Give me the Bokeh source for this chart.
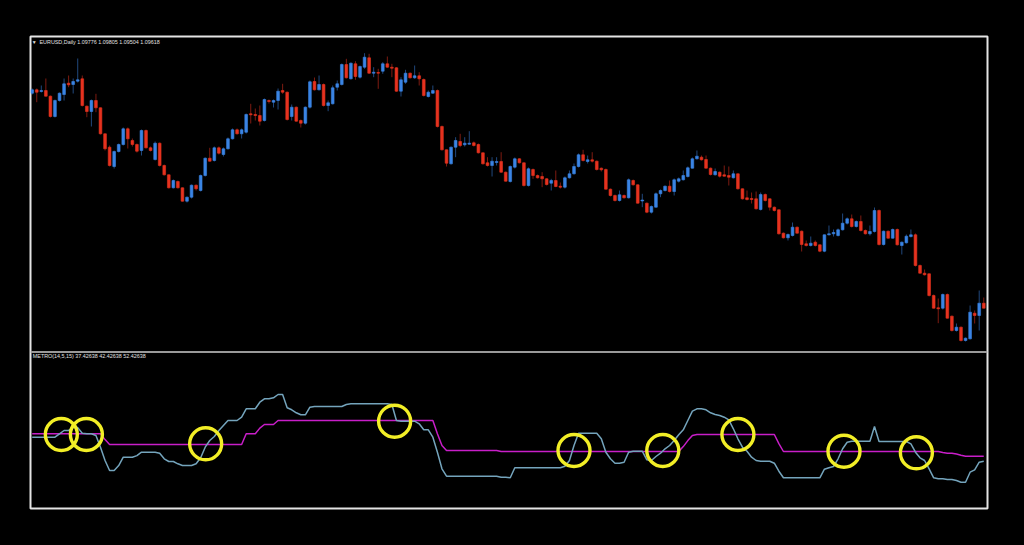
from bokeh.plotting import figure
from bokeh.models import ColumnDataSource, Range1d, Span, Label
from bokeh.embed import file_html
from bokeh.resources import INLINE

# ---------------- data ----------------
symbol = "EURUSD,Daily"
last_bar = ["1.09776", "1.09805", "1.09504", "1.09618"]
indicator_name = "METRO(14,5,15)"
indicator_last = ["37.42638", "42.42638", "52.42638"]

opens = [
    1.11743, 1.11777, 1.11760, 1.11770, 1.11713, 1.11510, 1.11670, 1.11730, 1.11843, 1.11830,
    1.11863, 1.11887, 1.11613, 1.11560, 1.11670, 1.11597, 1.11337, 1.11203, 1.11010, 1.11160,
    1.11230, 1.11387, 1.11270, 1.11230, 1.11170, 1.11370, 1.11197, 1.11080, 1.11243, 1.11020,
    1.10927, 1.10797, 1.10860, 1.10797, 1.10663, 1.10703, 1.10823, 1.10770, 1.10920, 1.11093,
    1.11070, 1.11197, 1.11130, 1.11187, 1.11287, 1.11377, 1.11337, 1.11353, 1.11537, 1.11530,
    1.11520, 1.11470, 1.11670, 1.11653, 1.11670, 1.11770, 1.11753, 1.11510, 1.11603, 1.11470,
    1.11443, 1.11603, 1.11860, 1.11777, 1.11830, 1.11620, 1.11637, 1.11803, 1.11830, 1.12030,
    1.11887, 1.12037, 1.11903, 1.12003, 1.12097, 1.11943, 1.11950, 1.11963, 1.12037, 1.12003,
    1.11997, 1.11763, 1.11853, 1.11943, 1.11897, 1.11917, 1.11880, 1.11710, 1.11743, 1.11770,
    1.11410, 1.11177, 1.11037, 1.11203, 1.11260, 1.11227, 1.11233, 1.11247, 1.11230, 1.11147,
    1.11047, 1.11020, 1.11050, 1.11060, 1.10953, 1.10860, 1.11003, 1.11087, 1.11047, 1.10820,
    1.10980, 1.10920, 1.10910, 1.10887, 1.10843, 1.10870, 1.10813, 1.10803, 1.10897, 1.10937,
    1.11010, 1.11127, 1.11060, 1.11077, 1.11063, 1.10993, 1.10980, 1.10783, 1.10720, 1.10670,
    1.10720, 1.10697, 1.10870, 1.10827, 1.10665, 1.10643, 1.10553, 1.10603, 1.10737, 1.10770,
    1.10813, 1.10760, 1.10863, 1.10877, 1.10910, 1.10993, 1.11087, 1.11103, 1.11080, 1.10993,
    1.10927, 1.10953, 1.10927, 1.10920, 1.10897, 1.10937, 1.10787, 1.10697, 1.10690, 1.10687,
    1.10580, 1.10730, 1.10687, 1.10603, 1.10577, 1.10343, 1.10297, 1.10320, 1.10403, 1.10363,
    1.10237, 1.10220, 1.10253, 1.10227, 1.10163, 1.10327, 1.10337, 1.10320, 1.10377, 1.10443,
    1.10487, 1.10410, 1.10460, 1.10370, 1.10337, 1.10360, 1.10570, 1.10230, 1.10363, 1.10293,
    1.10380, 1.10220, 1.10247, 1.10310, 1.10327, 1.10020, 1.09943, 1.09937, 1.09720, 1.09597,
    1.09593, 1.09730, 1.09513, 1.09370, 1.09403, 1.09270, 1.09287, 1.09543, 1.09520, 1.09643,
]
highs = [
    1.11790, 1.11790, 1.11820, 1.11890, 1.11720, 1.11680, 1.11750, 1.11890, 1.11920, 1.11890,
    1.12090, 1.11920, 1.11620, 1.11680, 1.11737, 1.11600, 1.11340, 1.11220, 1.11170, 1.11240,
    1.11400, 1.11400, 1.11290, 1.11240, 1.11380, 1.11380, 1.11210, 1.11260, 1.11250, 1.11030,
    1.10930, 1.10880, 1.10870, 1.10800, 1.10710, 1.10830, 1.10830, 1.10930, 1.11100, 1.11197,
    1.11210, 1.11210, 1.11200, 1.11300, 1.11390, 1.11390, 1.11390, 1.11540, 1.11637, 1.11590,
    1.11620, 1.11690, 1.11680, 1.11680, 1.11790, 1.11837, 1.11760, 1.11630, 1.11610, 1.11480,
    1.11610, 1.11870, 1.11900, 1.11920, 1.11840, 1.11670, 1.11820, 1.11870, 1.12040, 1.12087,
    1.12050, 1.12063, 1.12020, 1.12143, 1.12137, 1.12003, 1.11987, 1.12053, 1.12110, 1.12037,
    1.12003, 1.11903, 1.11977, 1.11950, 1.12020, 1.11953, 1.11890, 1.11770, 1.11820, 1.11780,
    1.11420, 1.11180, 1.11210, 1.11303, 1.11337, 1.11303, 1.11363, 1.11260, 1.11240, 1.11150,
    1.11103, 1.11103, 1.11103, 1.11153, 1.10960, 1.11020, 1.11100, 1.11093, 1.11050, 1.11000,
    1.10990, 1.10930, 1.10953, 1.10893, 1.10887, 1.10970, 1.10850, 1.10910, 1.10970, 1.11040,
    1.11140, 1.11177, 1.11120, 1.11153, 1.11070, 1.11000, 1.10990, 1.10790, 1.10730, 1.10770,
    1.10730, 1.10890, 1.10880, 1.10830, 1.10737, 1.10650, 1.10620, 1.10750, 1.10780, 1.10820,
    1.10870, 1.10890, 1.10900, 1.10970, 1.11010, 1.11100, 1.11170, 1.11120, 1.11120, 1.11000,
    1.10990, 1.10960, 1.11020, 1.11010, 1.10970, 1.10940, 1.10790, 1.10770, 1.10750, 1.10760,
    1.10750, 1.10740, 1.10690, 1.10610, 1.10580, 1.10350, 1.10340, 1.10450, 1.10410, 1.10370,
    1.10270, 1.10310, 1.10270, 1.10230, 1.10330, 1.10420, 1.10380, 1.10390, 1.10540, 1.10500,
    1.10530, 1.10470, 1.10520, 1.10380, 1.10420, 1.10600, 1.10580, 1.10370, 1.10370, 1.10390,
    1.10390, 1.10260, 1.10330, 1.10380, 1.10340, 1.10030, 1.09980, 1.09940, 1.09730, 1.09690,
    1.09740, 1.09740, 1.09520, 1.09440, 1.09410, 1.09300, 1.09620, 1.09570, 1.09770, 1.09700,
]
lows = [
    1.11730, 1.11653, 1.11750, 1.11710, 1.11500, 1.11500, 1.11660, 1.11670, 1.11803, 1.11740,
    1.11850, 1.11610, 1.11503, 1.11410, 1.11553, 1.11330, 1.11170, 1.11010, 1.10990, 1.11150,
    1.11220, 1.11190, 1.11210, 1.11150, 1.11120, 1.11190, 1.11160, 1.11070, 1.11010, 1.10920,
    1.10790, 1.10790, 1.10790, 1.10660, 1.10650, 1.10690, 1.10770, 1.10760, 1.10910, 1.11060,
    1.11060, 1.11130, 1.11110, 1.11180, 1.11280, 1.11330, 1.11290, 1.11340, 1.11440, 1.11470,
    1.11420, 1.11460, 1.11640, 1.11600, 1.11580, 1.11737, 1.11470, 1.11470, 1.11460, 1.11400,
    1.11430, 1.11590, 1.11770, 1.11770, 1.11610, 1.11563, 1.11630, 1.11770, 1.11820, 1.11890,
    1.11880, 1.11877, 1.11890, 1.11987, 1.11937, 1.11903, 1.11787, 1.11937, 1.11997, 1.11903,
    1.11757, 1.11710, 1.11837, 1.11890, 1.11887, 1.11820, 1.11710, 1.11700, 1.11737, 1.11400,
    1.11170, 1.11010, 1.11030, 1.11103, 1.11203, 1.11210, 1.11230, 1.11210, 1.11140, 1.11030,
    1.11010, 1.10910, 1.11020, 1.10947, 1.10860, 1.10850, 1.10990, 1.11040, 1.10810, 1.10810,
    1.10887, 1.10890, 1.10803, 1.10820, 1.10770, 1.10803, 1.10790, 1.10790, 1.10890, 1.10930,
    1.11000, 1.11060, 1.11040, 1.11050, 1.10970, 1.10960, 1.10780, 1.10710, 1.10660, 1.10660,
    1.10690, 1.10690, 1.10820, 1.10640, 1.10603, 1.10543, 1.10540, 1.10600, 1.10703, 1.10760,
    1.10750, 1.10720, 1.10850, 1.10870, 1.10900, 1.10990, 1.11080, 1.11070, 1.10990, 1.10920,
    1.10920, 1.10900, 1.10910, 1.10820, 1.10890, 1.10780, 1.10680, 1.10670, 1.10640, 1.10580,
    1.10570, 1.10660, 1.10570, 1.10560, 1.10330, 1.10290, 1.10270, 1.10310, 1.10340, 1.10160,
    1.10210, 1.10210, 1.10210, 1.10153, 1.10153, 1.10320, 1.10310, 1.10310, 1.10370, 1.10430,
    1.10400, 1.10400, 1.10360, 1.10330, 1.10320, 1.10350, 1.10220, 1.10220, 1.10290, 1.10290,
    1.10220, 1.10130, 1.10240, 1.10300, 1.10010, 1.09940, 1.09920, 1.09710, 1.09590, 1.09443,
    1.09580, 1.09490, 1.09360, 1.09360, 1.09260, 1.09260, 1.09280, 1.09440, 1.09370, 1.09590,
]
closes = [
    1.11777, 1.11753, 1.11770, 1.11713, 1.11510, 1.11670, 1.11743, 1.11837, 1.11827, 1.11860,
    1.11877, 1.11620, 1.11560, 1.11670, 1.11597, 1.11337, 1.11187, 1.11020, 1.11160, 1.11230,
    1.11387, 1.11287, 1.11230, 1.11163, 1.11370, 1.11197, 1.11170, 1.11243, 1.11020, 1.10927,
    1.10797, 1.10870, 1.10797, 1.10663, 1.10703, 1.10823, 1.10787, 1.10920, 1.11093, 1.11063,
    1.11197, 1.11143, 1.11187, 1.11287, 1.11377, 1.11337, 1.11377, 1.11530, 1.11527, 1.11520,
    1.11463, 1.11680, 1.11660, 1.11670, 1.11763, 1.11753, 1.11480, 1.11603, 1.11463, 1.11443,
    1.11603, 1.11857, 1.11777, 1.11830, 1.11620, 1.11647, 1.11797, 1.11837, 1.12030, 1.11897,
    1.12043, 1.11910, 1.12010, 1.12103, 1.11943, 1.11953, 1.11943, 1.12037, 1.12003, 1.11993,
    1.11763, 1.11877, 1.11943, 1.11897, 1.11917, 1.11887, 1.11720, 1.11753, 1.11770, 1.11410,
    1.11177, 1.11043, 1.11203, 1.11270, 1.11220, 1.11243, 1.11243, 1.11220, 1.11147, 1.11037,
    1.11020, 1.11063, 1.11060, 1.10953, 1.10863, 1.11010, 1.11087, 1.11047, 1.10820, 1.10987,
    1.10920, 1.10897, 1.10887, 1.10830, 1.10870, 1.10810, 1.10803, 1.10897, 1.10937, 1.11010,
    1.11127, 1.11070, 1.11077, 1.11063, 1.10980, 1.10977, 1.10783, 1.10720, 1.10670, 1.10727,
    1.10697, 1.10877, 1.10827, 1.10643, 1.10675, 1.10553, 1.10610, 1.10737, 1.10770, 1.10813,
    1.10760, 1.10877, 1.10887, 1.10920, 1.10997, 1.11087, 1.11113, 1.11077, 1.10993, 1.10930,
    1.10960, 1.10913, 1.10913, 1.10903, 1.10937, 1.10787, 1.10687, 1.10680, 1.10680, 1.10587,
    1.10730, 1.10670, 1.10603, 1.10570, 1.10337, 1.10297, 1.10330, 1.10403, 1.10343, 1.10230,
    1.10220, 1.10243, 1.10220, 1.10163, 1.10327, 1.10337, 1.10350, 1.10377, 1.10443, 1.10487,
    1.10410, 1.10460, 1.10370, 1.10337, 1.10360, 1.10570, 1.10230, 1.10363, 1.10293, 1.10380,
    1.10227, 1.10253, 1.10313, 1.10327, 1.10020, 1.09943, 1.09927, 1.09720, 1.09593, 1.09587,
    1.09730, 1.09493, 1.09370, 1.09403, 1.09270, 1.09293, 1.09553, 1.09520, 1.09643, 1.09593,
]

# METRO step lines (fast = light blue, slow = magenta)
step_fast = [
    61.4, 61.4, 61.4, 61.4, 61.4, 61.4, 64.8, 68.1, 68.1, 71.0,
    71.0, 65.4, 64.8, 64.8, 63.1, 51.4, 38.1, 28.1, 28.1, 33.0,
    41.4, 41.4, 41.4, 43.0, 46.4, 46.4, 46.4, 46.4, 45.4, 39.8,
    37.1, 37.1, 34.8, 33.1, 33.1, 33.1, 34.8, 40.8, 51.4, 58.1,
    62.1, 68.1, 73.1, 78.1, 78.1, 78.1, 81.4, 89.8, 89.8, 89.8,
    96.4, 99.8, 99.8, 100.8, 104.1, 104.1, 90.8, 88.8, 85.8, 83.8,
    83.8, 91.4, 92.1, 92.1, 92.1, 92.1, 92.1, 92.1, 92.1, 94.1,
    94.8, 94.8, 94.8, 94.8, 94.8, 94.8, 94.8, 94.8, 94.8, 94.1,
    78.1, 77.4, 77.4, 77.4, 77.4, 74.8, 68.8, 68.8, 61.4, 46.4,
    29.8, 22.4, 22.4, 22.4, 22.4, 22.4, 22.4, 22.4, 22.4, 22.4,
    22.4, 22.4, 22.4, 21.4, 21.4, 20.8, 30.8, 30.8, 30.8, 30.8,
    30.8, 30.8, 30.8, 30.8, 30.8, 30.8, 30.8, 32.4, 38.1, 53.1,
    65.4, 65.4, 65.4, 65.4, 65.4, 59.8, 46.4, 39.8, 35.4, 35.4,
    36.4, 46.4, 47.4, 47.4, 47.4, 38.8, 38.1, 42.1, 45.4, 49.8,
    53.1, 58.1, 63.8, 68.8, 78.1, 87.4, 89.8, 89.8, 88.8, 85.8,
    84.1, 83.1, 81.4, 78.8, 69.8, 59.8, 51.4, 47.4, 41.4, 38.1,
    37.4, 37.4, 37.4, 35.4, 27.4, 20.8, 20.8, 20.8, 20.8, 20.8,
    20.8, 20.8, 20.8, 20.8, 29.4, 30.8, 32.1, 39.8, 49.8, 56.4,
    57.4, 57.4, 57.4, 57.4, 57.4, 72.1, 57.1, 57.1, 57.1, 57.1,
    57.1, 57.1, 57.1, 54.8, 46.4, 40.8, 38.1, 29.8, 20.8, 19.8,
    19.8, 19.1, 19.1, 18.1, 16.4, 16.4, 26.4, 28.8, 36.4, 37.42638,
]
step_slow = [
    64.8, 64.8, 64.8, 64.8, 64.8, 64.8, 64.8, 64.8, 64.8, 64.8,
    64.8, 64.8, 64.8, 64.8, 64.8, 64.8, 59.0, 54.1, 54.1, 54.1,
    54.1, 54.1, 54.1, 54.1, 54.1, 54.1, 54.1, 54.1, 54.1, 54.1,
    54.1, 54.1, 54.1, 54.1, 54.1, 54.1, 54.1, 54.1, 54.1, 54.1,
    54.1, 54.1, 54.1, 54.1, 54.1, 54.1, 54.1, 64.8, 64.8, 64.8,
    70.5, 74.1, 74.1, 74.1, 78.1, 78.1, 78.1, 78.1, 78.1, 78.1,
    78.1, 78.1, 78.1, 78.1, 78.1, 78.1, 78.1, 78.1, 78.1, 78.1,
    78.1, 78.1, 78.1, 78.1, 78.1, 78.1, 78.1, 78.1, 78.1, 78.1,
    78.1, 78.1, 78.1, 78.1, 78.1, 78.1, 78.1, 78.1, 78.1, 64.8,
    53.1, 48.1, 48.1, 48.1, 48.1, 48.1, 48.1, 48.1, 48.1, 48.1,
    48.1, 48.1, 48.1, 47.1, 47.1, 47.1, 47.1, 47.1, 47.1, 47.1,
    47.1, 47.1, 47.1, 47.1, 47.1, 47.1, 47.1, 47.1, 47.1, 47.1,
    47.1, 47.1, 47.1, 47.1, 47.1, 47.1, 47.1, 47.1, 47.1, 47.1,
    47.1, 47.1, 47.1, 47.1, 47.1, 47.1, 47.1, 47.1, 47.1, 47.1,
    47.1, 47.1, 47.1, 52.0, 58.0, 63.0, 64.1, 64.1, 64.1, 64.1,
    64.1, 64.1, 64.1, 64.1, 64.1, 64.1, 64.1, 64.1, 64.1, 64.1,
    64.1, 64.1, 64.1, 64.1, 55.0, 47.1, 47.1, 47.1, 47.1, 47.1,
    47.1, 47.1, 47.1, 47.1, 47.1, 47.1, 47.1, 47.1, 47.1, 47.1,
    47.1, 47.1, 47.1, 47.1, 47.1, 47.1, 47.1, 47.1, 47.1, 47.1,
    47.1, 47.1, 47.1, 47.1, 47.1, 47.1, 47.1, 47.1, 47.1, 47.1,
    46.0, 45.4, 45.4, 44.5, 43.4, 42.4, 42.4, 42.4, 42.4, 42.42638,
]

# highlighted crossings (bar position, indicator value)
cross_bar = [7.4, 12.9, 39.1, 80.6, 120.0, 139.5, 156.0, 179.3, 195.2]
cross_value = [64.1, 64.1, 54.8, 77.4, 48.1, 48.1, 64.1, 47.4, 45.8]

n_bars = len(opens)
bars = list(range(1, n_bars + 1))

# ---------------- layout ----------------
W, H = 1016, 537
BL, BR, BT, BB = 30, 29, 36, 29
FRAME_W = W - BL - BR
FRAME_H = H - BT - BB

x_range = Range1d(0.627, 210.82)
price_range = Range1d(1.0759, 1.1231)
ind_range = Range1d(-9.9, 462.1)

def x_at(px):  # px from frame left -> bar coordinate
    return x_range.start + px * (x_range.end - x_range.start) / FRAME_W

def price_at(py):  # py from frame top -> price coordinate
    return price_range.end - py * (price_range.end - price_range.start) / FRAME_H

def ind_at(py):
    return ind_range.end - py * (ind_range.end - ind_range.start) / FRAME_H

UP = "#3a84e4"
DOWN = "#e6321f"

colors = [UP if c >= o else DOWN for o, c in zip(opens, closes)]
src = ColumnDataSource(dict(
    bar=bars, high=highs, low=lows,
    top=[max(o, c) for o, c in zip(opens, closes)],
    bottom=[min(o, c) for o, c in zip(opens, closes)],
    color=colors,
))

p = figure(width=W, height=H, x_range=x_range, y_range=price_range,
           output_backend="svg", toolbar_location=None, tools="",
           x_axis_location=None, y_axis_location=None,
           min_border_left=BL, min_border_right=BR,
           min_border_top=BT, min_border_bottom=BB,
           background_fill_color="black", border_fill_color="black",
           outline_line_color="#e4e4e4", outline_line_width=2)
p.extra_y_ranges = {"ind": ind_range}
p.grid.grid_line_color = None

# candles
p.segment(x0="bar", y0="low", x1="bar", y1="high", source=src,
          line_color="color", line_width=1, line_alpha=0.55)
p.vbar(x="bar", width=0.6, top="top", bottom="bottom", source=src,
       fill_color="color", line_color="color", line_width=0.6)

# panel separator
sep = Span(location=price_at(315.5), dimension="width",
           line_color="#9a9a9a", line_width=2)
p.add_layout(sep)

# indicator
p.line(bars, step_slow, y_range_name="ind", line_color="#c81ec8", line_width=1.5)
p.line(bars, step_fast, y_range_name="ind", line_color="#74a4bc", line_width=1.5)
p.scatter(cross_bar, cross_value, y_range_name="ind", marker="circle", size=32,
          fill_color=None, line_color="#f2ee26", line_width=3.4)

# texts
FONT = "Liberation Sans"
p.add_layout(Label(x=x_at(3.6), y=price_at(5.0), text="\u25bc",
                   text_font=FONT, text_font_size="5px", text_color="#e0e0e0",
                   text_align="center", text_baseline="middle"))
p.add_layout(Label(x=x_at(9.0), y=price_at(5.0),
                   text=symbol + "  " + " ".join(last_bar),
                   text_font=FONT, text_font_size="5.4px", text_color="#e0e0e0",
                   text_align="left", text_baseline="middle"))
p.add_layout(Label(x=x_at(2.3), y=ind_at(319.7), y_range_name="ind",
                   text=indicator_name + " " + " ".join(indicator_last),
                   text_font=FONT, text_font_size="5.4px", text_color="#e0e0e0",
                   text_align="left", text_baseline="middle"))

page_style = """{% block preamble %}<style>html, body { margin: 0; padding: 0; background-color: #000000; }</style>{% endblock %}"""
html = file_html(p, INLINE, title="EURUSD,Daily", template=page_style)
open("out.html", "w").write(html)
